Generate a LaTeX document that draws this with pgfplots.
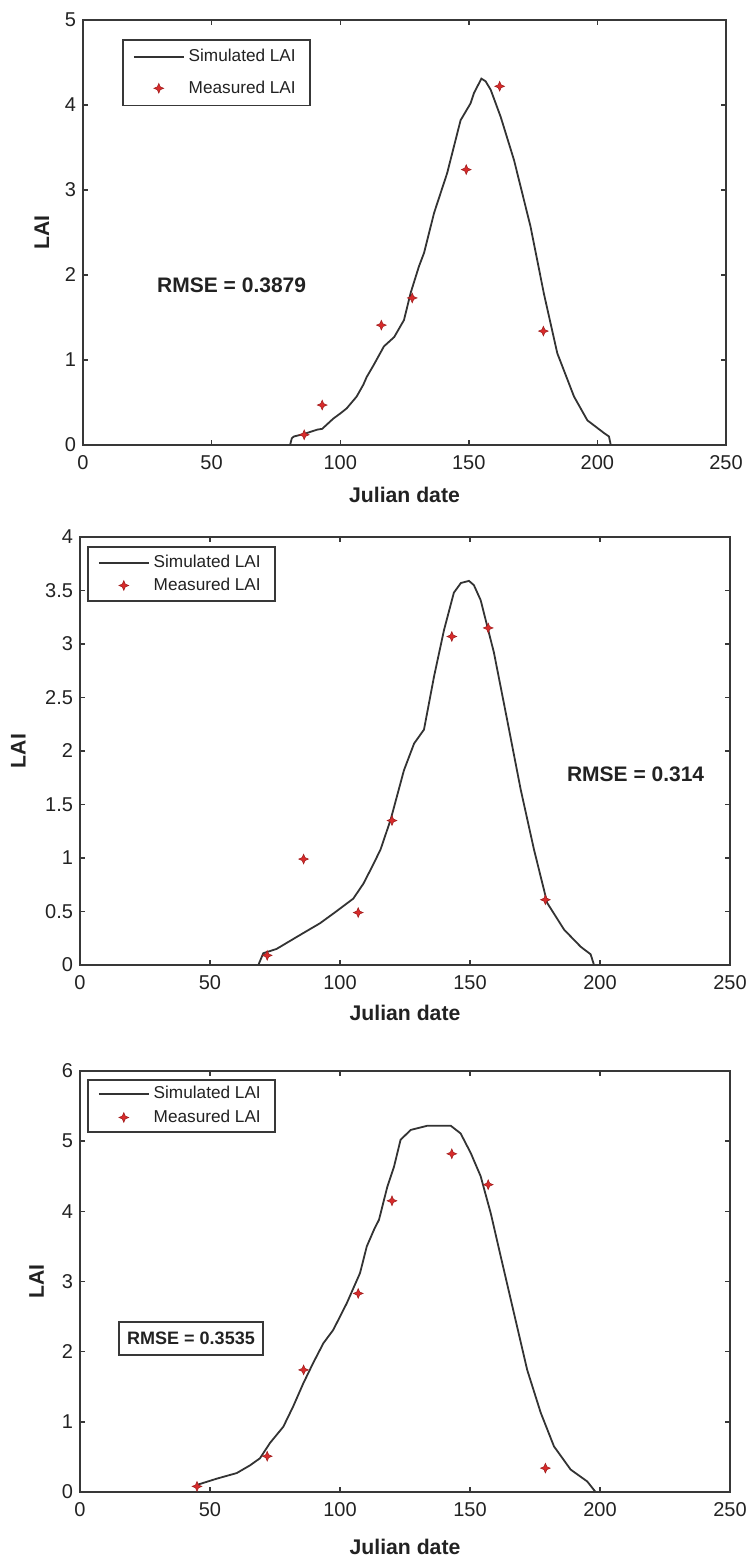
\documentclass[border=0pt]{standalone}
\usepackage{fontspec}
\setmainfont{Liberation Sans}
\usepackage{pgfplots}
\pgfplotsset{compat=1.18}

\definecolor{axgray}{HTML}{383838}
\definecolor{curvegray}{HTML}{333333}
\definecolor{mred}{HTML}{D92B2B}
\definecolor{txt}{HTML}{222222}

\pgfdeclareplotmark{star4}{%
  \pgfpathmoveto{\pgfqpoint{0pt}{\pgfplotmarksize}}%
  \pgfpathlineto{\pgfqpoint{0.3\pgfplotmarksize}{0.3\pgfplotmarksize}}%
  \pgfpathlineto{\pgfqpoint{\pgfplotmarksize}{0pt}}%
  \pgfpathlineto{\pgfqpoint{0.3\pgfplotmarksize}{-0.3\pgfplotmarksize}}%
  \pgfpathlineto{\pgfqpoint{0pt}{-\pgfplotmarksize}}%
  \pgfpathlineto{\pgfqpoint{-0.3\pgfplotmarksize}{-0.3\pgfplotmarksize}}%
  \pgfpathlineto{\pgfqpoint{-\pgfplotmarksize}{0pt}}%
  \pgfpathlineto{\pgfqpoint{-0.3\pgfplotmarksize}{0.3\pgfplotmarksize}}%
  \pgfpathclose
  \pgfusepathqfillstroke
}

\pgfplotsset{
  lai/.style={
    scale only axis,
    anchor=south west,
    xmin=0, xmax=250, ymin=0,
    xtick={0,50,100,150,200,250},
    tick align=inside,
    major tick length=2.5pt,
    axis line style={axgray, line width=0.9pt},
    every tick/.style={axgray, line width=0.7pt},
    tick label style={font=\fontsize{10}{12}\selectfont, text=txt},
    xticklabel style={yshift=-1.5pt},
    /pgf/number format/assume math mode=true,
    xlabel={Julian date}, ylabel={LAI},
    label style={font=\fontsize{10.6}{12}\selectfont\bfseries, text=txt},
    legend cell align=left,
    legend image code/.code={\draw[mark repeat=2,mark phase=2] plot coordinates {(0pt,0pt) (12.5pt,0pt) (25pt,0pt)};},
    legend style={draw=axgray, line width=0.9pt, fill=white, anchor=north west,
      at={(axis description cs:0,1)}, inner xsep=5pt,
      font=\fontsize{8.6}{10}\selectfont, text=txt},
  },
  simline/.style={curvegray, line width=0.9pt, no markers},
  meas/.style={only marks, mark=star4, mark size=2.4pt,
    mark options={fill=mred, draw=mred!75!black, line width=0.3pt}},
}

\begin{document}
\begin{tikzpicture}
\useasboundingbox (0,0) rectangle (374pt,779.5pt);

% ---------------- Panel 1 ----------------
\begin{axis}[lai,
  at={(41.5pt,557pt)}, width=321.5pt, height=212.5pt,
  ymax=5, ytick={0,1,2,3,4,5},
  xlabel style={at={(axis description cs:0.5,-0.1176)}, anchor=center},
  ylabel style={at={(axis description cs:-0.0642,0.5)}, anchor=center},
  legend style={xshift=19.5pt, yshift=-9.5pt, inner ysep=2.7pt, row sep=3.9pt},
]
\addplot[simline] coordinates {
(80.5,0) (81.2,0.08) (82,0.1) (86,0.13) (91,0.18) (93,0.19) (97.3,0.31)
(100,0.37) (102.5,0.43) (106.4,0.57) (109,0.71) (110.3,0.80) (113,0.94)
(117,1.16) (121,1.27) (124.8,1.47) (127.4,1.79) (130.6,2.10) (132.6,2.26)
(136.5,2.73) (141.6,3.2) (146.8,3.82) (150.7,4.02) (152,4.14) (154.9,4.31)
(156.5,4.28) (158.5,4.18) (162.4,3.86) (167.6,3.35) (174,2.57) (179.2,1.78)
(184.4,1.08) (190.9,0.57) (196.1,0.29) (202.6,0.14) (204.5,0.1) (205.2,0)
};
\addlegendentry{Simulated LAI\hspace{5pt}}
\addplot[meas] coordinates {
(86,0.12) (93,0.47) (116,1.41) (128,1.73) (149,3.24) (162,4.22) (179,1.34)
};
\addlegendentry{Measured LAI\hspace{5pt}}
\node[font=\fontsize{10.5}{12}\selectfont\bfseries, text=txt] at (axis cs:57.8,1.88) {RMSE = 0.3879};
\end{axis}

% ---------------- Panel 2 ----------------
\begin{axis}[lai,
  at={(40pt,297pt)}, width=325pt, height=214pt,
  ymax=4, ytick={0,0.5,1,1.5,2,2.5,3,3.5,4},
  xlabel style={at={(axis description cs:0.5,-0.1121)}, anchor=center},
  ylabel style={at={(axis description cs:-0.0949,0.5)}, anchor=center},
  legend style={xshift=3.5pt, yshift=-4.5pt, inner ysep=2pt, row sep=-0.3pt},
]
\addplot[simline] coordinates {
(68.6,0) (70.5,0.11) (75.6,0.15) (84.6,0.28) (92.3,0.39) (97.4,0.48)
(105.1,0.62) (109,0.76) (112.8,0.94) (115.6,1.08) (119.5,1.36) (124.6,1.82)
(128.5,2.07) (132.3,2.20) (136.2,2.70) (140,3.13) (143.8,3.48) (146.5,3.57)
(149.6,3.59) (151.5,3.55) (154.1,3.41) (159.2,2.92) (164.3,2.29) (169.5,1.64)
(174.6,1.08) (179.7,0.58) (186.2,0.33) (192.6,0.17) (196.4,0.10) (197.7,0)
};
\addlegendentry{Simulated LAI}
\addplot[meas] coordinates {
(72,0.09) (86,0.99) (107,0.49) (120,1.35) (143,3.07) (157,3.15) (179,0.61)
};
\addlegendentry{Measured LAI}
\node[font=\fontsize{10.5}{12}\selectfont\bfseries, text=txt] at (axis cs:213.7,1.78) {RMSE = 0.314};
\end{axis}

% ---------------- Panel 3 ----------------
\begin{axis}[lai,
  at={(40pt,33.5pt)}, width=325pt, height=210.5pt,
  ymax=6, ytick={0,1,2,3,4,5,6},
  xlabel style={at={(axis description cs:0.5,-0.1306)}, anchor=center},
  ylabel style={at={(axis description cs:-0.0666,0.5)}, anchor=center},
  legend style={xshift=3.5pt, yshift=-4pt, inner ysep=1.3pt, row sep=-0.1pt},
]
\addplot[simline] coordinates {
(44.9,0.1) (52.6,0.19) (60.3,0.27) (65.4,0.38) (69.2,0.48) (73.1,0.70)
(78.2,0.93) (82,1.22) (85.9,1.55) (89.7,1.84) (93.6,2.12) (97.4,2.31)
(102.6,2.69) (107.7,3.12) (110.3,3.50) (113.1,3.74) (115,3.88) (118.2,4.35)
(120.8,4.64) (123.3,5.02) (127.2,5.16) (133.6,5.22) (142.6,5.22) (146.4,5.11)
(150.3,4.83) (154.1,4.50) (158,3.97) (161.8,3.36) (166.9,2.55) (172,1.74)
(177.2,1.13) (182.3,0.65) (188.7,0.32) (195.1,0.15) (198.3,0)
};
\addlegendentry{Simulated LAI}
\addplot[meas] coordinates {
(45,0.08) (72,0.51) (86,1.74) (107,2.83) (120,4.15) (143,4.82) (157,4.38) (179,0.34)
};
\addlegendentry{Measured LAI}
\node[draw=axgray, line width=0.9pt, fill=white, inner xsep=4pt, minimum height=16.5pt,
  font=\fontsize{9}{11}\selectfont\bfseries, text=txt] at (axis cs:42.7,2.19) {RMSE = 0.3535};
\end{axis}
\end{tikzpicture}
\end{document}
